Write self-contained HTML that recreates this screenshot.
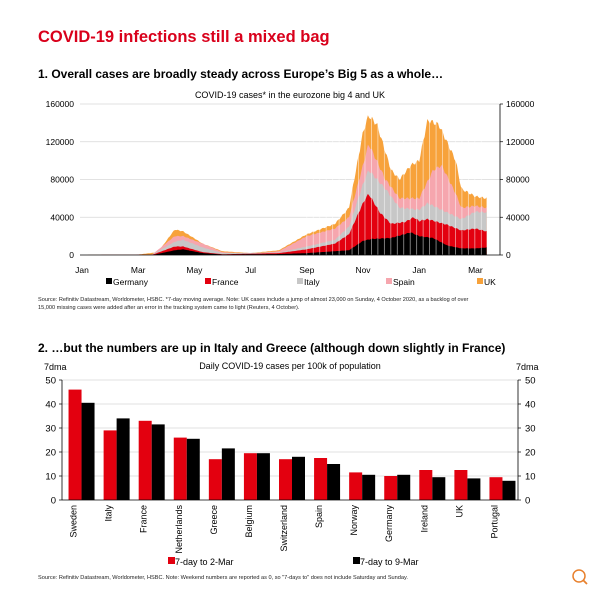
<!DOCTYPE html>
<html><head><meta charset="utf-8"><style>
html,body{margin:0;padding:0;background:#fff;}
svg{display:block;font-family:"Liberation Sans",Arial,sans-serif;}
</style></head><body>
<svg id="s" width="600" height="595" viewBox="0 0 600 595" xmlns="http://www.w3.org/2000/svg">
<text x="38" y="42" font-size="16.5" font-weight="bold" fill="#d9001b">COVID-19 infections still a mixed bag</text>
<text x="38" y="78" font-size="12" font-weight="bold" fill="#000">1. Overall cases are broadly steady across Europe’s Big 5 as a whole…</text>
<text x="290" y="98" font-size="9" text-anchor="middle" fill="#000">COVID-19 cases* in the eurozone big 4 and UK</text>
<g id="c1"></g>
<text x="38" y="301" font-size="5.6" fill="#222">Source: Refinitiv Datastream, Worldometer, HSBC. *7-day moving average. Note: UK cases include a jump of almost 23,000 on Sunday, 4 October 2020, as a backlog of over</text>
<text x="38" y="309" font-size="5.6" fill="#222">15,000 missing cases were added after an error in the tracking system came to light (Reuters, 4 October).</text>
<text x="38" y="352" font-size="12" font-weight="bold" fill="#000">2. …but the numbers are up in Italy and Greece (although down slightly in France)</text>
<text x="290" y="369" font-size="9" text-anchor="middle" fill="#000">Daily COVID-19 cases per 100k of population</text>
<text x="44" y="370" font-size="9">7dma</text>
<text x="516" y="370" font-size="9">7dma</text>
<g id="c2"></g>
<text x="38" y="579" font-size="5.6" fill="#222">Source: Refinitiv Datastream, Worldometer, HSBC. Note: Weekend numbers are reported as 0, so "7-days to" does not include Saturday and Sunday.</text>
<circle cx="579" cy="576" r="6" fill="none" stroke="#e8812e" stroke-width="1.5"/>
<line x1="583" y1="580" x2="587" y2="584" stroke="#e8812e" stroke-width="1.8"/>
</svg>
<script>
var NS="http://www.w3.org/2000/svg";
function el(p,t,a,txt){var e=document.createElementNS(NS,t);for(var k in a)e.setAttribute(k,a[k]);if(txt!==undefined)e.textContent=txt;p.appendChild(e);return e;}
var c1=document.getElementById('c1');
var X0=82,MW=28.1,Y0=255,SC=151/160000;
function X(t){return X0+t*MW;} function Y(v){return Y0-v*SC;}
[40000,80000,120000,160000].forEach(function(v){el(c1,'line',{x1:80,x2:500,y1:Y(v),y2:Y(v),stroke:'#d8d8d8','stroke-width':0.7});});
[0,40000,80000,120000,160000].forEach(function(v){
 el(c1,'text',{x:74,y:Y(v)+3,'font-size':8.5,'text-anchor':'end'},v);
 el(c1,'text',{x:506,y:Y(v)+3,'font-size':8.5},v);
 el(c1,'line',{x1:500,x2:503,y1:Y(v),y2:Y(v),stroke:'#000','stroke-width':0.7});
});
el(c1,'line',{x1:500,x2:500,y1:Y(160000),y2:Y0,stroke:'#000','stroke-width':0.8});
var ms=['Jan','Mar','May','Jul','Sep','Nov','Jan','Mar'];
ms.forEach(function(m,i){el(c1,'text',{x:X(i*2),y:273,'font-size':8.5,'text-anchor':'middle'},m);});
function interp(kp,t){if(t<=kp[0][0])return kp[0][1];for(var i=1;i<kp.length;i++){if(t<=kp[i][0]){var a=kp[i-1],b=kp[i];return a[1]+(b[1]-a[1])*(t-a[0])/(b[0]-a[0]);}}return kp[kp.length-1][1];}
var G=[[0,0],[2.5,0],[3.3,5000],[3.6,6000],[4.3,2000],[5,500],[7,1000],[8,2000],[9.5,5000],[10,15000],[10.3,17000],[11,18000],[11.7,24000],[12,20000],[12.5,18000],[13,10000],[13.5,7000],[14,7000],[14.4,8000]];
var F=[[0,0],[2.5,200],[3.3,9000],[3.6,9000],[4.3,3000],[5,800],[7,2000],[8,6000],[9,12000],[9.5,22000],[10,55000],[10.2,65000],[10.6,45000],[11,33000],[11.5,35000],[11.8,40000],[12,36000],[12.3,38000],[13,32000],[13.5,26000],[14,28000],[14.4,25000]];
var I=[[0,0],[2.5,400],[3.3,14000],[3.6,16000],[4.3,8000],[5,2000],[7,2500],[8,9000],[9,16000],[9.5,30000],[10,75000],[10.2,90000],[10.8,70000],[11.3,50000],[12,48000],[12.3,55000],[13,45000],[13.5,38000],[14,46000],[14.4,45000]];
var S=[[0,0],[2.5,600],[3.3,20000],[3.6,20000],[4.3,12000],[5,3000],[6,1500],[7,4000],[8,20000],[9,28000],[9.5,40000],[10,95000],[10.2,118000],[10.8,80000],[11.3,60000],[12,60000],[12.5,90000],[12.8,95000],[13.3,65000],[13.5,50000],[14,52000],[14.4,50000]];
var U=[[0,0],[2,500],[2.7,3000],[3.3,27000],[3.6,25000],[4.3,12000],[5,4000],[6,2000],[7,5000],[8,22000],[9,33000],[9.5,50000],[10,130000],[10.2,148000],[10.5,138000],[11,90000],[11.3,80000],[11.7,95000],[12,100000],[12.3,143000],[12.7,138000],[13.3,100000],[13.5,70000],[14,62000],[14.4,60000]];
var ser=[[U,'#f7a23b'],[S,'#f6a6ae'],[I,'#c7c7c7'],[F,'#e3000f'],[G,'#000']];
var T1=14.4,N=300;
ser.forEach(function(s){var d='M'+X(0)+','+Y0;for(var i=0;i<=N;i++){var t=T1*i/N;var v=interp(s[0],t);
 v*=1+0.02*Math.sin(i*1.7);d+=' L'+X(t).toFixed(1)+','+Y(v).toFixed(1);}
 d+=' L'+X(T1)+','+Y0+' Z';el(c1,'path',{d:d,fill:s[1]});});
for(var t=8;t<T1;t+=0.23){el(c1,'line',{x1:X(t),x2:X(t),y1:Y(150000),y2:Y0,stroke:'#fff','stroke-width':0.8,opacity:0.6});}
el(c1,'line',{x1:80,x2:500,y1:Y0,y2:Y0,stroke:'#000','stroke-width':0.8});
var lg=[['Germany','#000',106],['France','#e3000f',205],['Italy','#c7c7c7',297],['Spain','#f6a6ae',386],['UK','#f7a23b',477]];
lg.forEach(function(l){el(c1,'rect',{x:l[2],y:278,width:6,height:6,fill:l[1]});el(c1,'text',{x:l[2]+7,y:285,'font-size':8.5},l[0]);});
var c2=document.getElementById('c2');
var L=62,R=518,B=500,K=2.4;
[10,20,30,40,50].forEach(function(v){el(c2,'line',{x1:L,x2:R,y1:B-v*K,y2:B-v*K,stroke:'#d8d8d8','stroke-width':0.7});});
[0,10,20,30,40,50].forEach(function(v){var y=B-v*K;
 el(c2,'text',{x:56,y:y+3.5,'font-size':9.5,'text-anchor':'end'},v);
 el(c2,'text',{x:525,y:y+3.5,'font-size':9.5},v);
 el(c2,'line',{x1:L-3,x2:L,y1:y,y2:y,stroke:'#000','stroke-width':0.7});
 el(c2,'line',{x1:R,x2:R+3,y1:y,y2:y,stroke:'#000','stroke-width':0.7});});
el(c2,'line',{x1:L,x2:L,y1:B-50*K,y2:B,stroke:'#000','stroke-width':0.8});
el(c2,'line',{x1:R,x2:R,y1:B-50*K,y2:B,stroke:'#000','stroke-width':0.8});
var d2=[['Sweden',46,40.5],['Italy',29,34],['France',33,31.5],['Netherlands',26,25.5],['Greece',17,21.5],['Belgium',19.5,19.5],['Switzerland',17,18],['Spain',17.5,15],['Norway',11.5,10.5],['Germany',10,10.5],['Ireland',12.5,9.5],['UK',12.5,9],['Portugal',9.5,8]];
var gw=(R-L)/13;
d2.forEach(function(d,i){var gx=L+i*gw;var x=gx+gw/2-11;
 el(c2,'rect',{x:x,y:B-d[1]*K,width:13,height:d[1]*K,fill:'#e3000f'});
 el(c2,'rect',{x:x+13,y:B-d[2]*K,width:13,height:d[2]*K,fill:'#000'});
 var tx=gx+gw/2-6;el(c2,'text',{x:0,y:0,'font-size':9,'text-anchor':'end',transform:'translate('+(tx+3)+',505) rotate(-90)'},d[0]);});
el(c2,'line',{x1:L,x2:R,y1:B,y2:B,stroke:'#000','stroke-width':0.8});
el(c2,'rect',{x:168,y:557,width:7,height:7,fill:'#e3000f'});el(c2,'text',{x:175,y:565,'font-size':9},'7-day to 2-Mar');
el(c2,'rect',{x:353,y:557,width:7,height:7,fill:'#000'});el(c2,'text',{x:360,y:565,'font-size':9},'7-day to 9-Mar');
</script>
</body></html>
